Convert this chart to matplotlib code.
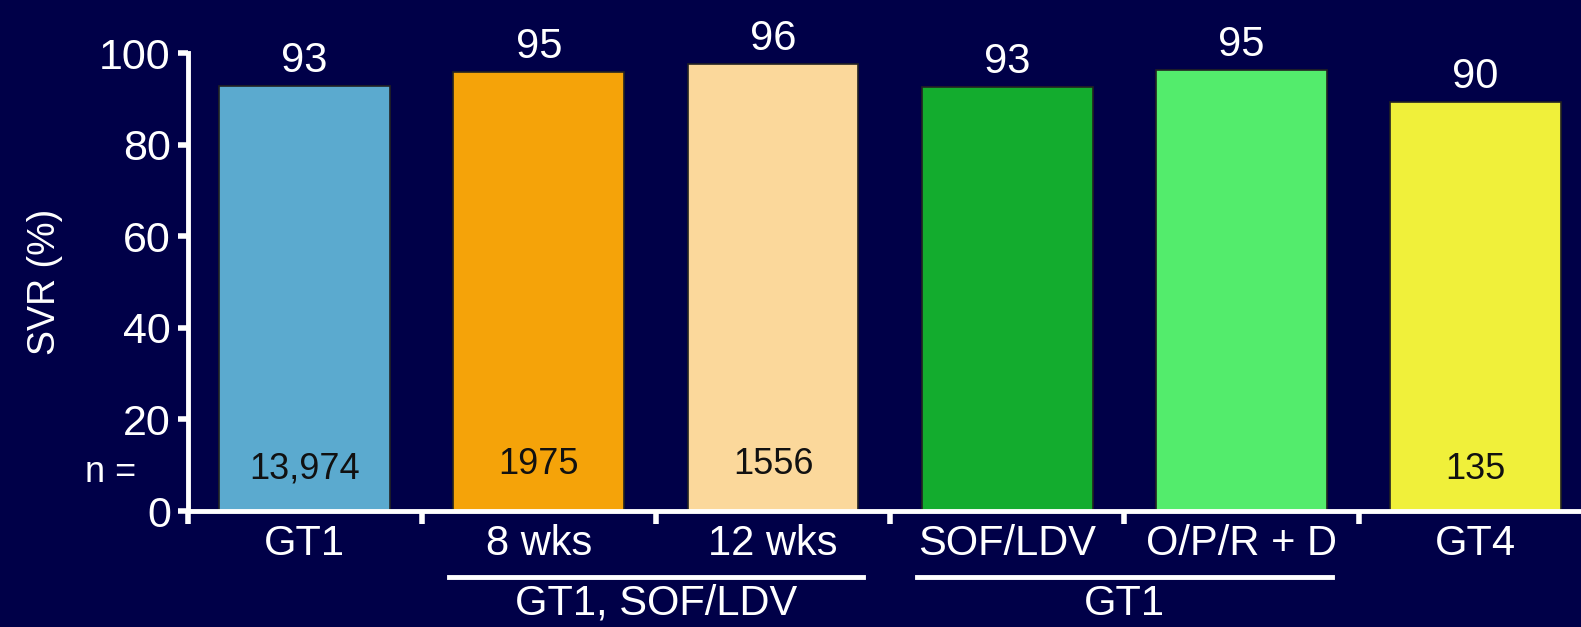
import matplotlib.pyplot as plt
import matplotlib.transforms as mtransforms
import numpy as np

plt.rcParams['font.family'] = ['Liberation Sans', 'DejaVu Sans']

# chart data
categories = ["GT1", "8 wks", "12 wks", "SOF/LDV", "O/P/R + D", "GT4"]
svr_labels = [93, 95, 96, 93, 95, 90]
# bar heights as drawn in the source slide (slightly off the printed numbers)
svr_heights = [92.9, 96.0, 97.7, 92.7, 96.4, 89.4]
n_labels = ["13,974", "1975", "1556", "", "", "135"]
n_y = [7.0, 8.1, 8.1, 0, 0, 7.0]
bar_colors = ["#5BAACF", "#F5A309", "#FBD89B", "#13AC2E", "#53EC6C", "#F0F03A"]
groups = [("GT1, SOF/LDV", 1, 2), ("GT1", 3, 4)]

bg = "#000048"

fig = plt.figure(figsize=(15.81, 6.27), dpi=100, facecolor=bg)
ax = fig.add_axes([0.1186, 0.185, 0.8814, 0.73], facecolor=bg)

x = np.arange(len(categories))
ax.bar(x, svr_heights, width=0.73, color=bar_colors, edgecolor="#222222", linewidth=1.2, zorder=2)

for xi, h, lab in zip(x, svr_heights, svr_labels):
    ax.annotate(str(lab), (xi, h), xytext=(0, 10), textcoords="offset points",
                ha="center", va="baseline", color="white", fontsize=30, annotation_clip=False)

for xi, lab, yy in zip(x, n_labels, n_y):
    if lab:
        ax.text(xi, yy, lab, ha="center", va="baseline", color="#111111", fontsize=26)
ax.text(-0.72, 6.4, "n =", ha="right", va="baseline", color="white", fontsize=26)

ax.set_xlim(-0.5, 5.45)
ax.set_ylim(0, 100)
ax.set_yticks([0, 20, 40, 60, 80, 100])
ax.set_xticks(x)
ax.set_xticklabels(categories)
ax.set_xticks(np.arange(-0.5, 5.5, 1.0), minor=True)

ax.tick_params(axis="y", colors="white", labelsize=31, width=4, length=7, direction="out", pad=5)
ax.tick_params(axis="x", which="major", colors="white", labelsize=30, length=0, pad=9)
ax.tick_params(axis="x", which="minor", colors="white", width=4, length=9, direction="out")

for side in ["top", "right"]:
    ax.spines[side].set_visible(False)
for side in ["left", "bottom"]:
    ax.spines[side].set_color("white")
    ax.spines[side].set_linewidth(3.5)

ax.set_ylabel("SVR (%)", color="white", fontsize=27, labelpad=26)

trans = mtransforms.blended_transform_factory(ax.transData, ax.transAxes)
for name, a, b in groups:
    ax.plot([a - 0.385, b + 0.385], [-0.145, -0.145], color="white", lw=3.5,
            transform=trans, clip_on=False)
    ax.text((a + b) / 2, -0.203, name, transform=trans, ha="center", va="center",
            color="white", fontsize=30)

fig.savefig("out.png", dpi=100, facecolor=bg)
